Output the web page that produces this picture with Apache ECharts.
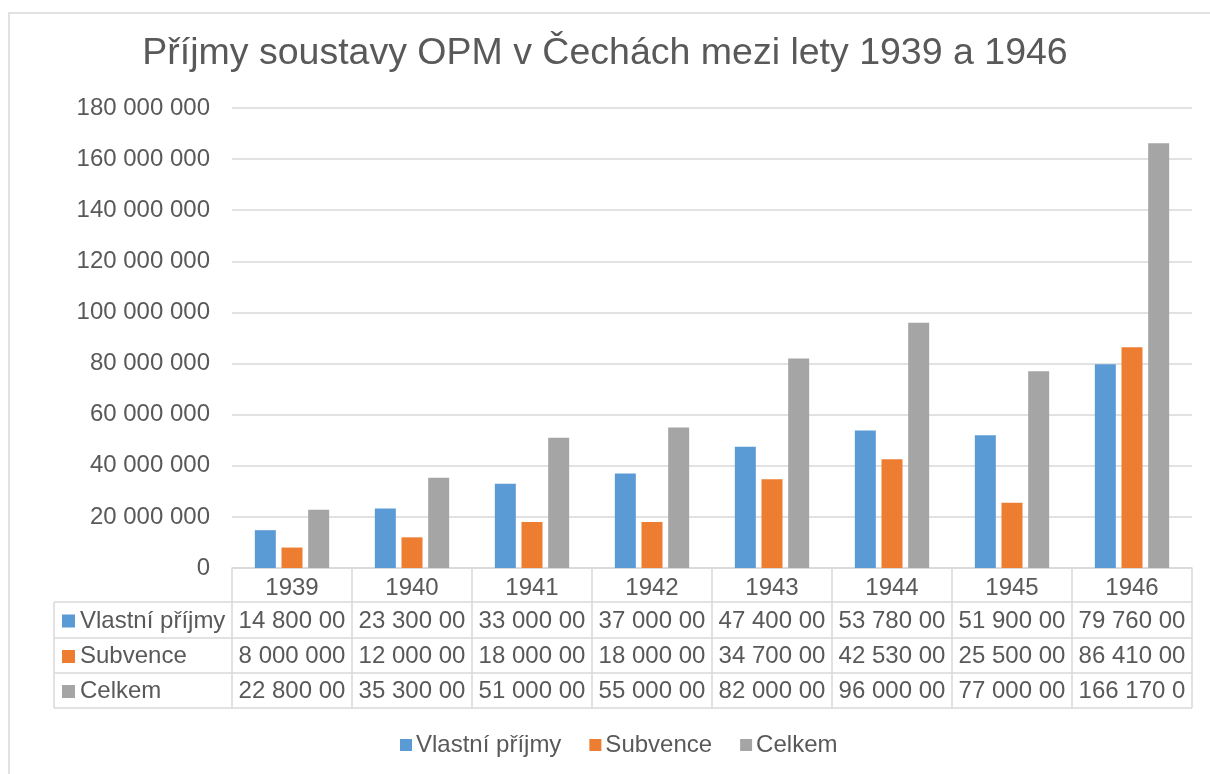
<!DOCTYPE html>
<html>
<head>
<meta charset="utf-8">
<script src="https://cdn.jsdelivr.net/npm/echarts@6/dist/echarts.min.js"></script>
<style>
html,body{margin:0;padding:0;background:#fff;}
#c{width:1210px;height:774px;}
</style>
</head>
<body>
<div id="c"></div>
<script>
const titleText = 'Příjmy soustavy OPM v Čechách mezi lety 1939 a 1946';
const categories = ['1939','1940','1941','1942','1943','1944','1945','1946'];
const seriesNames = ['Vlastní příjmy','Subvence','Celkem'];
const vlastniPrijmy = [14800000, 23300000, 33000000, 37000000, 47400000, 53780000, 51900000, 79760000];
const subvence = [8000000, 12000000, 18000000, 18000000, 34700000, 42530000, 25500000, 86410000];
const celkem = [22800000, 35300000, 51000000, 55000000, 82000000, 96000000, 77000000, 166170000];
const colors = ['#5b9bd5','#ed7d31','#a5a5a5'];

const FONT = '"Liberation Sans", Arial, sans-serif';
const TXT = '#595959';
const LINE = '#d9d9d9';
const FS = 24;

function fmt(v){
  return String(Math.round(v)).replace(/\B(?=(\d{3})+(?!\d))/g, ' ');
}

const chart = echarts.init(document.getElementById('c'));
const allSeries = [vlastniPrijmy, subvence, celkem];

chart.setOption({
  animation: false,
  backgroundColor: '#fff',
  textStyle: {fontFamily: FONT},
  title: {
    text: titleText,
    left: 'center',
    top: 30,
    textStyle: {fontSize: 37.5, fontWeight: 'normal', color: TXT, fontFamily: FONT}
  },
  legend: {
    data: seriesNames,
    left: 400,
    top: 733,
    padding: 0,
    icon: 'rect',
    itemWidth: 12,
    itemHeight: 12,
    itemGap: 28,
    textStyle: {fontSize: FS, color: TXT, fontFamily: FONT, padding: [0,0,0,-1]}
  },
  grid: {left: 232, right: 18, top: 108, bottom: 206, containLabel: false},
  xAxis: {
    type: 'category',
    data: categories,
    axisLine: {show: true, lineStyle: {color: LINE, width: 1.5}},
    axisTick: {show: true, length: 140, lineStyle: {color: LINE, width: 1.5}},
    axisLabel: {fontSize: FS, color: TXT, fontFamily: FONT, margin: 8}
  },
  yAxis: {
    type: 'value',
    min: 0,
    max: 180000000,
    interval: 20000000,
    axisLine: {show: false},
    axisTick: {show: false},
    axisLabel: {fontSize: FS, color: TXT, fontFamily: FONT, margin: 22, formatter: v => fmt(v)},
    splitLine: {lineStyle: {color: LINE, width: 1.5}}
  },
  series: seriesNames.map((n, i) => ({
    name: n,
    type: 'bar',
    data: allSeries[i],
    barWidth: 21,
    barGap: '27%',
    itemStyle: {color: colors[i]}
  }))
});

// data table below the plot
const rowTops = [602, 638, 673, 708];
const tableLeft = 54;
const right = chart.convertToPixel({xAxisIndex: 0}, categories.length - 1) + 60;
const g = [];
// outer chart border
g.push({type: 'rect', shape: {x: 9, y: 13, width: 1220, height: 800}, style: {fill: null, stroke: LINE, lineWidth: 1.5}, silent: true});
rowTops.forEach(y => {
  g.push({type: 'line', shape: {x1: tableLeft, y1: y, x2: right, y2: y}, style: {stroke: LINE, lineWidth: 1.5}});
});
g.push({type: 'line', shape: {x1: tableLeft, y1: rowTops[0], x2: tableLeft, y2: rowTops[3]}, style: {stroke: LINE, lineWidth: 1.5}});
seriesNames.forEach((n, r) => {
  const cy = (rowTops[r] + rowTops[r+1]) / 2 + 1;
  g.push({type: 'rect', shape: {x: 62, y: cy - 6.5, width: 13, height: 13}, style: {fill: colors[r]}});
  g.push({type: 'text', x: 80, y: cy, style: {text: n, fontSize: FS, fontFamily: FONT, fill: TXT, align: 'left', verticalAlign: 'middle'}});
  allSeries[r].forEach((v, c) => {
    const cx = chart.convertToPixel({xAxisIndex: 0}, categories[c]);
    g.push({type: 'text', x: cx, y: cy, style: {
      text: fmt(v), fontSize: FS, fontFamily: FONT, fill: TXT,
      align: 'center', verticalAlign: 'middle',
      width: 112, overflow: 'truncate', ellipsis: ''
    }});
  });
});
chart.setOption({graphic: g});
</script>
</body>
</html>
